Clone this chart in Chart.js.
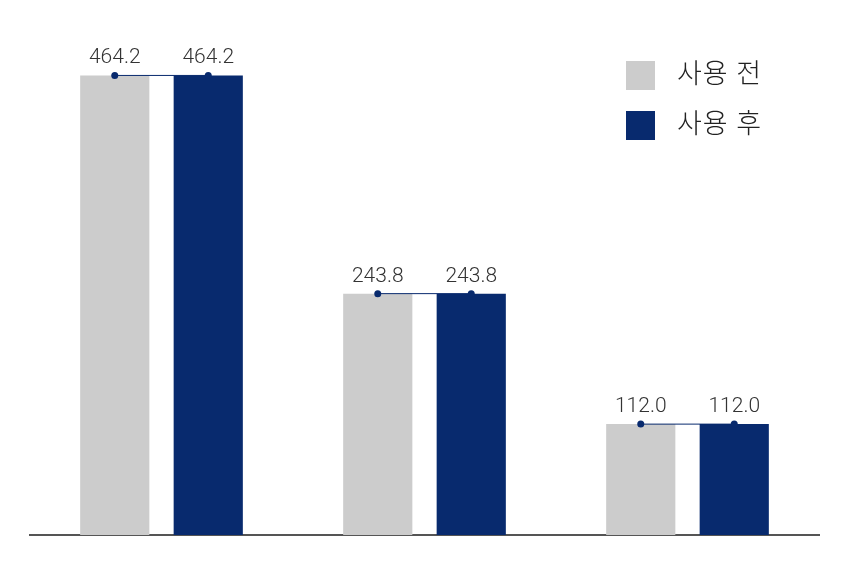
<!DOCTYPE html>
<html>
<head>
<meta charset="utf-8">
<script src="https://cdn.jsdelivr.net/npm/chart.js@4/dist/chart.umd.min.js"></script>
<style>
  html, body { margin: 0; padding: 0; background: #fff; }
  #wrap { width: 848px; height: 561px; }
</style>
</head>
<body>
<div id="wrap"><canvas id="myChart"></canvas></div>
<script>
// data
const categories = ['1', '2', '3']
const seriesNames = ['사용 전', '사용 후']
const before = [464.2, 243.8, 112.0]
const after = [464.2, 243.8, 112.0]

const gray = '#cccccc'
const navy = '#082a6e'
const FONT = "Roboto, 'Noto Sans CJK KR', sans-serif"

// value labels, dots and the little connector between the two bars
const markers = {
  id: 'markers',
  afterDatasetsDraw(chart) {
    const ctx = chart.ctx
    const m0 = chart.getDatasetMeta(0)
    const m1 = chart.getDatasetMeta(1)
    ctx.save()
    m0.data.forEach((b0, i) => {
      const b1 = m1.data[i]
      ctx.strokeStyle = navy
      ctx.lineWidth = 1
      ctx.beginPath()
      ctx.moveTo(b0.x, b0.y)
      ctx.lineTo(b1.x, b1.y)
      ctx.stroke()
      ctx.fillStyle = navy
      ;[b0, b1].forEach(b => {
        ctx.beginPath()
        ctx.arc(b.x, b.y, 3.5, 0, Math.PI * 2)
        ctx.fill()
      })
    })
    ctx.fillStyle = '#333'
    ctx.font = '300 21px ' + FONT
    ctx.textAlign = 'center'
    ctx.textBaseline = 'alphabetic'
    ;[m0, m1].forEach((meta, d) => {
      const vals = d === 0 ? before : after
      meta.data.forEach((b, i) => {
        ctx.fillText(vals[i].toFixed(1), b.x, b.y - 12)
      })
    })
    // legend top right
    const colors = [gray, navy]
    ctx.font = '300 27px ' + FONT
    ctx.letterSpacing = '1px'
    ctx.textAlign = 'left'
    ctx.textBaseline = 'middle'
    seriesNames.forEach((name, i) => {
      const y = 61 + i * 50
      ctx.fillStyle = colors[i]
      ctx.fillRect(626, y, 29, 29)
      ctx.fillStyle = '#222'
      ctx.fillText(name, 677, y + 15)
    })
    ctx.restore()
  }
}

let chart = new Chart(document.querySelector('#myChart'), {
  type: 'bar',
  data: {
    labels: categories,
    datasets: [
      { label: seriesNames[0], data: before, backgroundColor: gray },
      { label: seriesNames[1], data: after, backgroundColor: navy }
    ]
  },
  options: {
    responsive: true,
    maintainAspectRatio: false,
    animation: false,
    categoryPercentage: 0.711,
    barPercentage: 0.74,
    layout: { padding: { left: 30, right: 29, top: 40, bottom: 26 } },
    plugins: {
      legend: { display: false },
      tooltip: { enabled: false }
    },
    scales: {
      x: {
        grid: { display: false, drawTicks: false },
        border: { display: true, color: '#555', width: 2 },
        ticks: { display: false }
      },
      y: {
        display: false,
        min: 0,
        max: 500
      }
    }
  },
  plugins: [markers]
});
</script>
</body>
</html>
